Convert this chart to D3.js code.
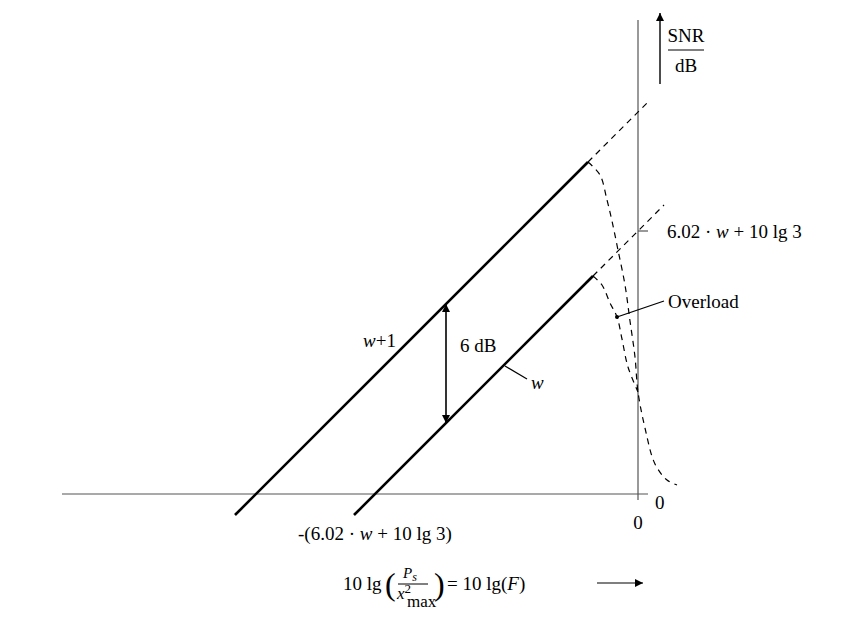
<!DOCTYPE html><html><head><meta charset="utf-8"><script src="https://cdn.jsdelivr.net/npm/d3@7"></script>
<style>body{margin:0;background:#fff}text{font-family:"Liberation Serif","Times New Roman",serif;font-size:19px;fill:#000}</style></head><body><svg id="c" width="865" height="623"></svg><script>
// data (abstract dB units)
const offsetW = 65.75, offsetW1 = 95.5;
const solidW = [-71, -11.25], dashW = [-11.25, 6.5];
const solidW1 = [-100.75, -12.5], dashW1 = [-12.5, 2.75];
const overloadW1 = [[-12.5,83],[-9.5,79.75],[-7.75,73.5],[-6.5,68.25],[-5,61],[-3.25,52.25],[-2,43.25],[-0.75,34.25],[0,25.5],[1.75,16.5],[4.25,7.5],[7.25,3.5],[9.75,2.25]];
const overloadW = [[-11.25,54.5],[-9,52.25],[-7,47.75],[-5.25,44.25],[-4,38.75],[-2.5,31.75],[0,25.5]];
const overloadDot = [-5.25,44.25];
const arrowX = -48;

const x = d3.scaleLinear().domain([-144, 0]).range([62, 638]);
const y = d3.scaleLinear().domain([0, 100]).range([494, 94]);
const svg = d3.select("#c");
const defs = svg.append("defs");
defs.append("marker").attr("id","ah").attr("viewBox","0 0 10 10").attr("refX",10).attr("refY",5)
 .attr("markerWidth",10).attr("markerHeight",8).attr("markerUnits","userSpaceOnUse").attr("orient","auto-start-reverse")
 .append("path").attr("d","M0,0L10,5L0,10z").attr("fill","#000");
const line = d3.line().x(d=>x(d[0])).y(d=>y(d[1]));
const curve = d3.line().x(d=>x(d[0])).y(d=>y(d[1])).curve(d3.curveCatmullRom);
svg.append("line").attr("x1",x(-144)).attr("x2",x(2.5)).attr("y1",y(0)).attr("y2",y(0)).attr("stroke","#555").attr("stroke-width",1.2);
svg.append("line").attr("x1",x(0)).attr("x2",x(0)).attr("y1",y(118.5)).attr("y2",y(-1.5)).attr("stroke","#555").attr("stroke-width",1.2);
svg.append("line").attr("x1",x(0)).attr("x2",x(2.5)).attr("y1",y(offsetW)).attr("y2",y(offsetW)).attr("stroke","#555").attr("stroke-width",1.2);
[[solidW,offsetW],[solidW1,offsetW1]].forEach(([s,o])=>{
 svg.append("path").attr("d",line(s.map(v=>[v,v+o]))).attr("stroke","#000").attr("stroke-width",2.6).attr("fill","none");});
[[dashW,offsetW],[dashW1,offsetW1]].forEach(([s,o])=>{
 svg.append("path").attr("d",line(s.map(v=>[v,v+o]))).attr("stroke","#000").attr("stroke-width",1.2).attr("stroke-dasharray","6,5").attr("fill","none");});
[overloadW1,overloadW].forEach(p=>svg.append("path").attr("d",curve(p)).attr("stroke","#000").attr("stroke-width",1.2).attr("stroke-dasharray","6,5").attr("fill","none"));
svg.append("circle").attr("cx",x(overloadDot[0])).attr("cy",y(overloadDot[1])).attr("r",2);
svg.append("line").attr("x1",x(overloadDot[0])).attr("y1",y(overloadDot[1])).attr("x2",664).attr("y2",301).attr("stroke","#000").attr("stroke-width",1.2);
svg.append("line").attr("x1",x(arrowX)).attr("x2",x(arrowX)).attr("y1",y(arrowX+offsetW1)).attr("y2",y(arrowX+offsetW))
 .attr("stroke","#000").attr("stroke-width",1.6).attr("marker-start","url(#ah)").attr("marker-end","url(#ah)");
svg.append("line").attr("x1",505).attr("y1",366).attr("x2",527).attr("y2",379).attr("stroke","#000").attr("stroke-width",1.2);
svg.append("line").attr("x1",660).attr("x2",660).attr("y1",84).attr("y2",13).attr("stroke","#000").attr("stroke-width",1.4).attr("marker-end","url(#ah)");
svg.append("line").attr("x1",668).attr("x2",704).attr("y1",50).attr("y2",50).attr("stroke","#000").attr("stroke-width",1);
svg.append("text").attr("x",686).attr("y",42).attr("text-anchor","middle").text("SNR");
svg.append("text").attr("x",686).attr("y",72).attr("text-anchor","middle").text("dB");
svg.append("line").attr("x1",597).attr("x2",643).attr("y1",583).attr("y2",583).attr("stroke","#000").attr("stroke-width",1.2).attr("marker-end","url(#ah)");
const t=(px,py,s,a)=>svg.append("text").attr("x",px).attr("y",py).attr("text-anchor",a||"start").html(s);
t(667,238,'6.02 · <tspan font-style="italic">w</tspan>  + 10 lg 3');
t(668,308,'Overload');
t(655,509,'0'); t(638,529,'0','middle');
t(363,347,'<tspan font-style="italic">w</tspan>+1');
t(460,352,'6 dB');
t(531,389,'<tspan font-style="italic">w</tspan>');
t(298,540,'-(6.02 · <tspan font-style="italic">w</tspan> + 10 lg 3)');
t(343,590,'10 lg');
svg.append("text").attr("x",385).attr("y",595).style("font-size","32px").text("(");
t(403,578,'<tspan font-style="italic">P</tspan><tspan font-style="italic" font-size="12" dy="3">s</tspan>').style("font-size","15px");
svg.append("line").attr("x1",398).attr("x2",428).attr("y1",584).attr("y2",584).attr("stroke","#000").attr("stroke-width",1);
t(397,599,'<tspan font-style="italic">x</tspan><tspan font-size="13" dy="-6">2</tspan>').style("font-size","17px");
t(407,607,'max').style("font-size","17px");
svg.append("text").attr("x",434).attr("y",595).style("font-size","32px").text(")");
t(447,590,'= 10 lg(<tspan font-style="italic">F</tspan>)');
</script></body></html>
